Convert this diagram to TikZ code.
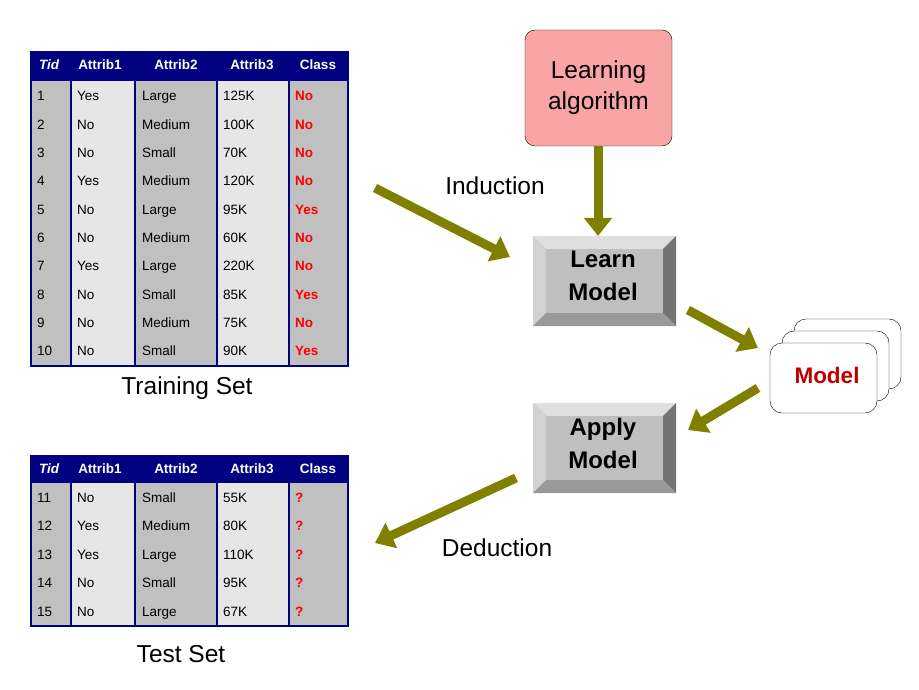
\documentclass[tikz,border=0pt]{standalone}
\usepackage{fontspec}
\setmainfont{Liberation Sans}
\usetikzlibrary{arrows.meta}
\definecolor{navy}{HTML}{000080}
\definecolor{dgray}{HTML}{C0C0C0}
\definecolor{lgray}{HTML}{E6E6E6}
\definecolor{olivea}{HTML}{7F7F00}
\definecolor{pinkb}{HTML}{F9A5A5}
\definecolor{redc}{HTML}{FF0000}
\definecolor{darkred}{HTML}{C00000}
\begin{document}
\begin{tikzpicture}[x=1pt,y=-1pt,
  cell/.style={font=\fontsize{13.5}{15}\selectfont,anchor=west,inner sep=0,text height=10pt,text depth=3pt},
  hd/.style={font=\bfseries\fontsize{13.5}{15}\selectfont,text=white,inner sep=0,text height=10pt,text depth=3pt},
  lbl/.style={font=\fontsize{24.5}{28}\selectfont}]
\useasboundingbox (0,0) rectangle (919,690);
\newcommand{\mytable}[4]{% top, header bottom, bottom, rows
  \fill[dgray] (31,#2) rectangle (71,#3);
  \fill[lgray] (71,#2) rectangle (135,#3);
  \fill[dgray] (135,#2) rectangle (217,#3);
  \fill[lgray] (217,#2) rectangle (289,#3);
  \fill[dgray] (289,#2) rectangle (348,#3);
  \fill[navy] (31,#1) rectangle (348,#2);
  \foreach \xx in {71,135,217,289} \draw[navy,line width=1.5pt] (\xx,#2) -- (\xx,#3);
  \draw[navy,line width=1.2pt] (31,#1) rectangle (348,#3);
  \path (49,{(#1+#2)/2}) node[hd,font=\bfseries\itshape\fontsize{13.5}{15}\selectfont] {Tid}
        (100,{(#1+#2)/2}) node[hd] {Attrib1}
        (176,{(#1+#2)/2}) node[hd] {Attrib2}
        (252,{(#1+#2)/2}) node[hd] {Attrib3}
        (318,{(#1+#2)/2}) node[hd] {Class};
  #4}
\mytable{52}{81}{366}{%
\foreach \r/\a/\b/\c/\d [count=\i from 0] in {1/Yes/Large/125K/No,2/No/Medium/100K/No,3/No/Small/70K/No,4/Yes/Medium/120K/No,5/No/Large/95K/Yes,6/No/Medium/60K/No,7/Yes/Large/220K/No,8/No/Small/85K/Yes,9/No/Medium/75K/No,10/No/Small/90K/Yes}{
  \path (37,97.5+\i*28.3) node[cell] {\r} (77,97.5+\i*28.3) node[cell] {\a} (142,97.5+\i*28.3) node[cell] {\b} (223,97.5+\i*28.3) node[cell] {\c} (295,97.5+\i*28.3) node[cell,text=redc,font=\bfseries\fontsize{13.5}{15}\selectfont] {\d};}}
\mytable{456}{483}{626}{%
\foreach \r/\a/\b/\c [count=\i from 0] in {11/No/Small/55K,12/Yes/Medium/80K,13/Yes/Large/110K,14/No/Small/95K,15/No/Large/67K}{
  \path (37,498.5+\i*28.5) node[cell] {\r} (77,498.5+\i*28.5) node[cell] {\a} (142,498.5+\i*28.5) node[cell] {\b} (223,498.5+\i*28.5) node[cell] {\c} (295,498.5+\i*28.5) node[cell,text=redc,font=\bfseries\fontsize{13.5}{15}\selectfont] {?};}}
\node[lbl] (train) at (187,388) {Training Set};
\node[lbl] (test) at (181,654) {Test Set};
% learning algorithm
\node[draw=black,fill=pinkb,rounded corners=10pt,minimum width=147pt,minimum height=116pt,align=center,font=\fontsize{24.5}{31}\selectfont] (alg) at (598.5,88) {Learning\\algorithm};
% buttons
\newcommand{\bevbtn}[4]{% x1,y1,x2,y2
  \fill[gray!55] (#1,#2) rectangle (#3,#4);
  \fill[gray!25] (#1,#2) -- (#3,#2) -- (#3-13,#2+13) -- (#1+13,#2+13) -- cycle;
  \fill[gray!35] (#1,#2) -- (#1+13,#2+13) -- (#1+13,#4-13) -- (#1,#4) -- cycle;
  \fill[black!55] (#3,#2) -- (#3,#4) -- (#3-13,#4-13) -- (#3-13,#2+13) -- cycle;
  \fill[gray!80] (#1,#4) -- (#3,#4) -- (#3-13,#4-13) -- (#1+13,#4-13) -- cycle;
  \fill[gray!50] (#1+13,#2+13) rectangle (#3-13,#4-13);}
\bevbtn{533}{236}{676}{326}
\node[align=center,font=\bfseries\fontsize{24}{33}\selectfont] (learn) at (603,276) {Learn\\Model};
\bevbtn{533}{403}{676}{493}
\node[align=center,font=\bfseries\fontsize{24}{33}\selectfont] (apply) at (603,443) {Apply\\Model};
% model stack
\foreach \dx/\dy in {24/-24,12/-12,0/0}
  \draw[fill=white,rounded corners=12pt] (770+\dx,343+\dy) rectangle (877+\dx,413+\dy);
\node[font=\bfseries\fontsize{22.5}{24}\selectfont,text=darkred] (model) at (827,375) {Model};
% arrows
\coordinate (a1) at (598,146); \coordinate (a2) at (598,236);
\coordinate (i1) at (375,188); \coordinate (i2) at (510,257);
\coordinate (m1) at (688,310); \coordinate (m2) at (758,348);
\coordinate (n1) at (758,388); \coordinate (n2) at (688,430);
\coordinate (d1) at (516,478); \coordinate (d2) at (375,543);
\foreach \s/\e in {a1/a2,i1/i2,m1/m2,n1/n2,d1/d2}
  \draw[olivea,line width=9pt,-{Triangle[length=18pt,width=27pt]}] (\s) -- (\e);
\node[lbl] (ind) at (495,186) {Induction};
\node[lbl] (ded) at (497,548) {Deduction};
\end{tikzpicture}
\end{document}
